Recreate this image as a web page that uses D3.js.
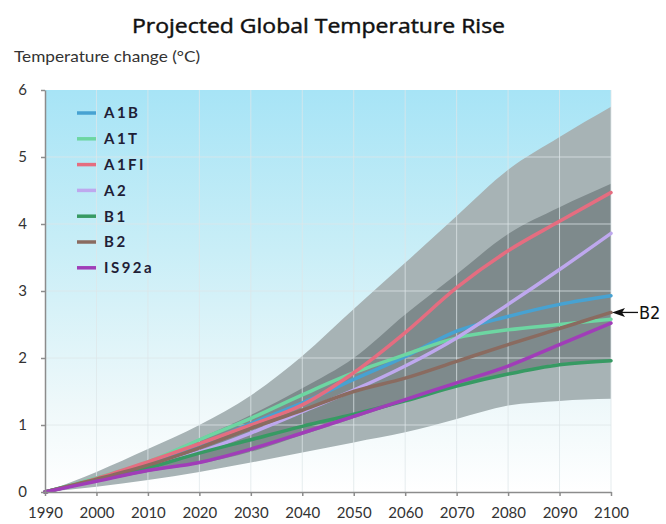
<!DOCTYPE html>
<html>
<head>
<meta charset="utf-8">
<script src="https://cdn.jsdelivr.net/npm/d3@7"></script>
<style>
	body { margin: 0; background: #fff; }
	.axis path, .axis line { stroke: #8c8c8c; stroke-width: 1.5; }
	.axis text { font-family: Lato, 'Noto Sans', sans-serif; font-size: 15px; fill: #333; }
	.grid-line { stroke: #dde6e8; stroke-opacity: 0.75; stroke-width: 1; }
	.scenario-line { fill: none; stroke-width: 3.5; stroke-linejoin: round; stroke-linecap: round; }
	.legend text { font-family: Lato, sans-serif; font-weight: 700; font-size: 15px; letter-spacing: 2.5px; fill: #1f2036; }
</style>
</head>
<body>
<div id="chart"></div>
<script>
const years = [1990, 2000, 2010, 2020, 2030, 2040, 2050, 2060, 2070, 2080, 2090, 2100];
const yTicks = [0, 1, 2, 3, 4, 5, 6];

const scenarioNames = ['A1B', 'A1T', 'A1FI', 'A2', 'B1', 'B2', 'IS92a'];
const scenarioColors = ['#47a2d2', '#6dd6a2', '#e56d80', '#bea8ee', '#379a63', '#8a6b60', '#a03db8'];

const a1b = [0, 0.2, 0.42, 0.7, 1.02, 1.33, 1.68, 2.02, 2.4, 2.62, 2.8, 2.93];
const a1t = [0, 0.21, 0.45, 0.78, 1.1, 1.45, 1.78, 2.05, 2.3, 2.42, 2.5, 2.58];
const a1fi = [0, 0.2, 0.45, 0.72, 1.0, 1.3, 1.78, 2.38, 3.05, 3.6, 4.04, 4.47];
const a2 = [0, 0.18, 0.38, 0.6, 0.88, 1.2, 1.52, 1.88, 2.3, 2.8, 3.32, 3.86];
const b1 = [0, 0.18, 0.36, 0.58, 0.78, 0.98, 1.16, 1.36, 1.58, 1.76, 1.9, 1.96];
const b2 = [0, 0.19, 0.4, 0.66, 0.95, 1.22, 1.5, 1.7, 1.95, 2.2, 2.44, 2.68];
const is92a = [0, 0.16, 0.32, 0.44, 0.64, 0.88, 1.13, 1.38, 1.63, 1.88, 2.2, 2.52];

// envelopes: all models (light) and model ensemble (dark)
const allHigh = [0, 0.3, 0.64, 1.0, 1.44, 2.03, 2.73, 3.42, 4.12, 4.81, 5.3, 5.75];
const allLow = [0, 0.08, 0.18, 0.3, 0.44, 0.59, 0.74, 0.89, 1.09, 1.29, 1.36, 1.39];
const ensHigh = [0, 0.22, 0.47, 0.8, 1.15, 1.55, 2.0, 2.65, 3.25, 3.85, 4.25, 4.6];
const ensLow = [0, 0.15, 0.3, 0.42, 0.6, 0.85, 1.1, 1.35, 1.57, 1.75, 1.92, 1.96];

const scenarioValues = [a1b, a1t, a1fi, a2, b1, b2, is92a];

const W = 666, H = 524;
const margin = { top: 90, right: 55, bottom: 32, left: 45 };
const width = W - margin.left - margin.right,
	height = H - margin.top - margin.bottom;

const svgRoot = d3.select('#chart').append('svg').attr('width', W).attr('height', H);

svgRoot.append('text')
	.attr('x', 132).attr('y', 33)
	.attr('textLength', 373).attr('lengthAdjust', 'spacingAndGlyphs')
	.style('font-family', "'Open Sans', sans-serif").style('font-weight', 400)
	.style('font-size', '20px').style('fill', '#111')
	.style('stroke', '#111').style('stroke-width', 0.45)
	.text('Projected Global Temperature Rise');

svgRoot.append('text')
	.attr('x', 14).attr('y', 62)
	.attr('textLength', 186).attr('lengthAdjust', 'spacingAndGlyphs')
	.style('font-family', 'Lato, sans-serif').style('font-size', '15px').style('fill', '#333')
	.text('Temperature change (°C)');

const defs = svgRoot.append('defs');
const grad = defs.append('linearGradient').attr('id', 'bg')
	.attr('x1', 0).attr('y1', 0).attr('x2', 0).attr('y2', 1);
grad.append('stop').attr('offset', '0%').attr('stop-color', '#a7e4f6');
grad.append('stop').attr('offset', '40%').attr('stop-color', '#c9eef7');
grad.append('stop').attr('offset', '78%').attr('stop-color', '#eef8fa');
grad.append('stop').attr('offset', '100%').attr('stop-color', '#ffffff');

const svg = svgRoot.append('g')
	.attr('transform', 'translate(' + margin.left + ',' + margin.top + ')');

const x = d3.scaleLinear().domain([1990, 2100]).range([0, width]);
const y = d3.scaleLinear().domain([0, 6]).range([height, 0]);

svg.append('rect').attr('width', width).attr('height', height).attr('fill', 'url(#bg)');

const band = (hi, lo) => d3.area()
	.x((d, i) => x(years[i]))
	.y0((d, i) => y(lo[i]))
	.y1((d, i) => y(hi[i]))
	.curve(d3.curveMonotoneX)(hi);

svg.append('path').attr('d', band(allHigh, allLow)).attr('fill', '#a7b3b5');
svg.append('path').attr('d', band(ensHigh, ensLow)).attr('fill', '#7e8a8c');

// grid
svg.append('g').selectAll('line')
	.data(years.slice(1))
	.enter().append('line')
	.attr('class', 'grid-line')
	.attr('x1', d => x(d)).attr('x2', d => x(d))
	.attr('y1', 0).attr('y2', height);
svg.append('g').selectAll('line')
	.data(yTicks.slice(1, -1))
	.enter().append('line')
	.attr('class', 'grid-line')
	.attr('x1', 0).attr('x2', width)
	.attr('y1', d => y(d)).attr('y2', d => y(d));

const line = d3.line()
	.x((d, i) => x(years[i]))
	.y(d => y(d))
	.curve(d3.curveMonotoneX);

svg.append('g').selectAll('path')
	.data(scenarioValues)
	.enter().append('path')
	.attr('class', 'scenario-line')
	.attr('d', d => line(d))
	.style('stroke', (d, i) => scenarioColors[i]);

// axes
svg.append('g')
	.attr('class', 'axis')
	.attr('transform', 'translate(0,' + height + ')')
	.call(d3.axisBottom(x).tickValues(years).tickFormat(d3.format('d'))
		.tickSize(4).tickSizeOuter(0).tickPadding(11));

svg.append('g')
	.attr('class', 'axis')
	.call(d3.axisLeft(y).tickValues(yTicks).tickFormat(d3.format('d'))
		.tickSize(4).tickSizeOuter(0).tickPadding(14));

// legend
const legend = svg.append('g').attr('class', 'legend')
	.attr('transform', 'translate(32,23)');
const item = legend.selectAll('g')
	.data(scenarioNames)
	.enter().append('g')
	.attr('transform', (d, i) => 'translate(0,' + i * 25.8 + ')');
item.append('line')
	.attr('x1', 0).attr('x2', 19)
	.style('stroke', (d, i) => scenarioColors[i])
	.style('stroke-width', 3.5);
item.append('text')
	.attr('x', 27).attr('dy', '0.36em')
	.text(d => d);

// B2 marker
const bx = x(2100), by = y(b2[b2.length - 1]);
svg.append('path')
	.attr('d', 'M' + (bx + 1) + ',' + by + 'L' + (bx + 14) + ',' + (by - 4.5) + 'L' + (bx + 11) + ',' + by
		+ 'L' + (bx + 14) + ',' + (by + 4.5) + 'Z')
	.attr('fill', '#111');
svg.append('line')
	.attr('x1', bx + 10).attr('x2', bx + 27)
	.attr('y1', by).attr('y2', by)
	.attr('stroke', '#111').attr('stroke-width', 1.3);
svg.append('text')
	.attr('x', bx + 28).attr('y', by).attr('dy', '0.36em')
	.style('font-family', "'Liberation Sans Narrow', 'DejaVu Sans Condensed', sans-serif")
	.style('font-size', '18px').style('fill', '#111')
	.text('B2');
</script>
</body>
</html>
